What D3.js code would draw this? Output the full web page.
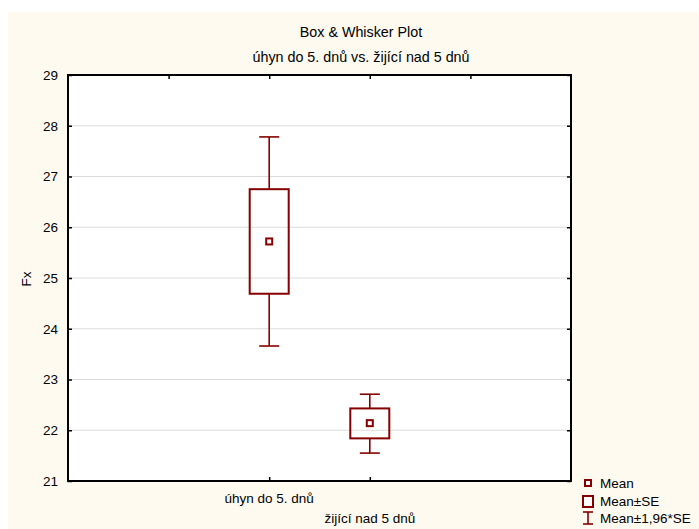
<!DOCTYPE html>
<html><head><meta charset="utf-8">
<script src="https://cdn.jsdelivr.net/npm/d3@7"></script>
<style>
body{margin:0;background:#fff;}
text{font-family:"Liberation Sans",Arial,sans-serif;fill:#000;}
</style></head>
<body>
<svg id="c" width="699" height="529"></svg>
<script>
const categories = ["úhyn do 5. dnů", "žijící nad 5 dnů"];
const means = [25.72, 22.14];
const seLow = [24.69, 21.84];
const seHigh = [26.75, 22.43];
const ciLow = [23.66, 21.55];
const ciHigh = [27.78, 22.71];
const yTicks = [21, 22, 23, 24, 25, 26, 27, 28, 29];
const xSlots = [1, 2, 3, 4];
const title = "Box & Whisker Plot";
const subtitle = "úhyn do 5. dnů vs. žijící nad 5 dnů";
const yLabel = "Fx";
const legendItems = ["Mean", "Mean±SE", "Mean±1,96*SE"];

const col = "#850000";
const svg = d3.select("#c");
svg.append("rect").attr("x", 8).attr("y", 12).attr("width", 691).attr("height", 517).attr("fill", "#fefaf0");

const L = 68, R = 571, T = 75, B = 481;
const x = d3.scaleLinear().domain([0, 5]).range([L, R]);
const y = d3.scaleLinear().domain([21, 29]).range([B, T]);

svg.append("rect").attr("x", L).attr("y", T).attr("width", R - L).attr("height", B - T).attr("fill", "#fff");

// grid
svg.append("g").selectAll("line").data(yTicks.slice(1, -1)).join("line")
  .attr("x1", L).attr("x2", R).attr("y1", d => y(d)).attr("y2", d => y(d))
  .attr("stroke", "#dcdcdc").attr("stroke-width", 1);

// axes
const yAxisL = d3.axisLeft(y).tickValues(yTicks).tickSize(-4).tickPadding(10).tickFormat(d3.format("d"));
const gL = svg.append("g").attr("transform", `translate(${L},0)`).call(yAxisL);
gL.select(".domain").remove();
gL.selectAll("text").style("font-size", "13.5px").attr("font-family", "Liberation Sans, Arial, sans-serif");
gL.selectAll("line").attr("stroke", "#000").attr("stroke-width", 1.5);

const gR = svg.append("g").attr("transform", `translate(${R},0)`).call(d3.axisRight(y).tickValues(yTicks).tickSize(-4).tickFormat(""));
gR.select(".domain").remove();
gR.selectAll("line").attr("stroke", "#000").attr("stroke-width", 1.5);

const gT = svg.append("g").attr("transform", `translate(0,${T})`).call(d3.axisTop(x).tickValues(xSlots).tickSize(-4).tickFormat(""));
gT.select(".domain").remove();
gT.selectAll("line").attr("stroke", "#000").attr("stroke-width", 1.5);

const gB = svg.append("g").attr("transform", `translate(0,${B})`).call(d3.axisBottom(x).tickValues([2, 3]).tickSize(-4).tickFormat(""));
gB.select(".domain").remove();
gB.selectAll("line").attr("stroke", "#000").attr("stroke-width", 1.5);

// category labels (staggered)
svg.append("g").selectAll("text").data(categories).join("text")
  .attr("x", (d, i) => x(i + 2)).attr("y", (d, i) => 503 + i * 20)
  .attr("text-anchor", "middle").style("font-size", "13.5px").text(d => d);

// frame
svg.append("rect").attr("x", L).attr("y", T).attr("width", R - L).attr("height", B - T)
  .attr("fill", "none").attr("stroke", "#000").attr("stroke-width", 2);

// boxes
const bw = 39, cw = 20;
const g = svg.append("g");
categories.forEach((c, i) => {
  const cx = x(i + 2);
  g.append("line").attr("x1", cx).attr("x2", cx).attr("y1", y(ciHigh[i])).attr("y2", y(seHigh[i])).attr("stroke", col).attr("stroke-width", 1.6);
  g.append("line").attr("x1", cx).attr("x2", cx).attr("y1", y(seLow[i])).attr("y2", y(ciLow[i])).attr("stroke", col).attr("stroke-width", 1.6);
  g.append("line").attr("x1", cx - cw / 2).attr("x2", cx + cw / 2).attr("y1", y(ciHigh[i])).attr("y2", y(ciHigh[i])).attr("stroke", col).attr("stroke-width", 1.6);
  g.append("line").attr("x1", cx - cw / 2).attr("x2", cx + cw / 2).attr("y1", y(ciLow[i])).attr("y2", y(ciLow[i])).attr("stroke", col).attr("stroke-width", 1.6);
  g.append("rect").attr("x", cx - bw / 2).attr("y", y(seHigh[i])).attr("width", bw).attr("height", y(seLow[i]) - y(seHigh[i]))
    .attr("fill", "none").attr("stroke", col).attr("stroke-width", 2);
  g.append("rect").attr("x", cx - 3).attr("y", y(means[i]) - 3).attr("width", 6).attr("height", 6)
    .attr("fill", "#fff").attr("stroke", col).attr("stroke-width", 2);
});

// titles
svg.append("text").attr("x", 361).attr("y", 37).attr("text-anchor", "middle").style("font-size", "14.3px").text(title);
svg.append("text").attr("x", 361).attr("y", 62).attr("text-anchor", "middle").style("font-size", "14.3px").text(subtitle);
svg.append("text").attr("transform", "translate(31,279) rotate(-90)").attr("text-anchor", "middle").style("font-size", "13.5px").text(yLabel);

// legend
const lg = svg.append("g");
const ly = [483, 501, 518];
lg.append("rect").attr("x", 585).attr("y", ly[0] - 3).attr("width", 6).attr("height", 6).attr("fill", "#fff").attr("stroke", col).attr("stroke-width", 2);
lg.append("rect").attr("x", 583).attr("y", ly[1] - 5).attr("width", 10).attr("height", 11).attr("fill", "#fff").attr("stroke", col).attr("stroke-width", 2);
lg.append("line").attr("x1", 588).attr("x2", 588).attr("y1", ly[2] - 6).attr("y2", ly[2] + 6).attr("stroke", col).attr("stroke-width", 1.6);
lg.append("line").attr("x1", 583).attr("x2", 593).attr("y1", ly[2] - 6).attr("y2", ly[2] - 6).attr("stroke", col).attr("stroke-width", 1.6);
lg.append("line").attr("x1", 583).attr("x2", 593).attr("y1", ly[2] + 6).attr("y2", ly[2] + 6).attr("stroke", col).attr("stroke-width", 1.6);
lg.selectAll("text").data(legendItems).join("text")
  .attr("x", 600).attr("y", (d, i) => ly[i] + 5).style("font-size", "13.5px").text(d => d);
</script>
</body></html>
